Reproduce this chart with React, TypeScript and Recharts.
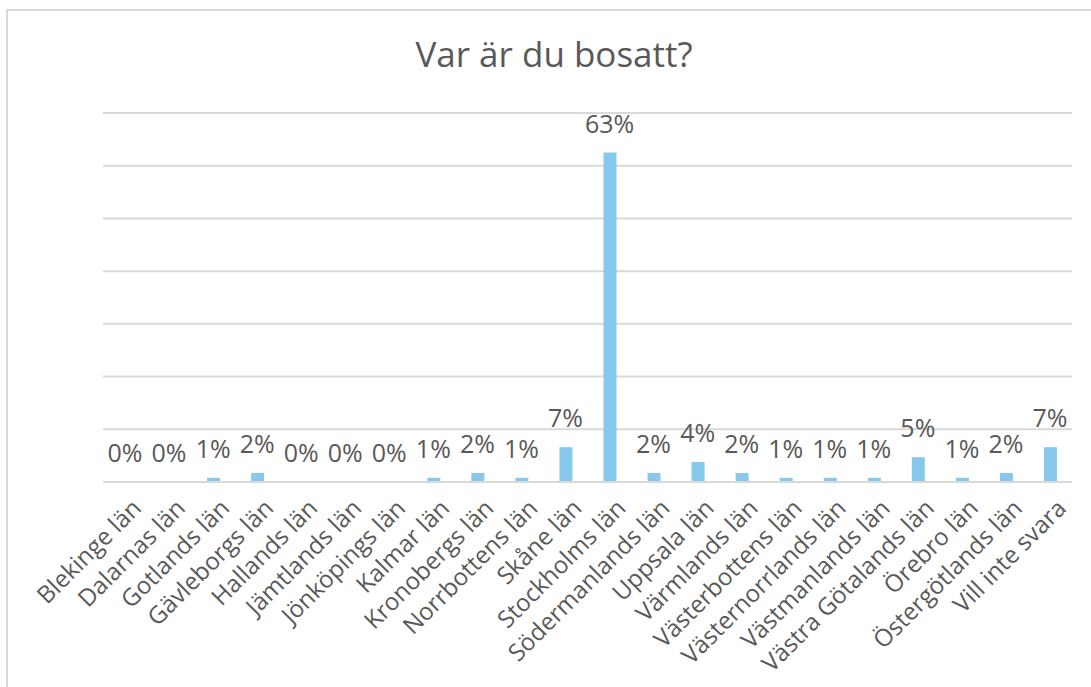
import { Bar, CartesianGrid, ComposedChart, LabelList, Line, XAxis, YAxis } from 'recharts'

const regions = [
  'Blekinge län',
  'Dalarnas län',
  'Gotlands län',
  'Gävleborgs län',
  'Hallands län',
  'Jämtlands län',
  'Jönköpings län',
  'Kalmar län',
  'Kronobergs län',
  'Norrbottens län',
  'Skåne län',
  'Stockholms län',
  'Södermanlands län',
  'Uppsala län',
  'Värmlands län',
  'Västerbottens län',
  'Västernorrlands län',
  'Västmanlands län',
  'Västra Götalands län',
  'Örebro län',
  'Östergötlands län',
  'Vill inte svara',
]

// share of respondents (fractions)
const shares = [
  0, 0, 0.008, 0.017, 0, 0, 0, 0.008, 0.017, 0.008, 0.066, 0.625, 0.017, 0.038, 0.017,
  0.008, 0.008, 0.008, 0.047, 0.008, 0.017, 0.066,
]

const yTicks = [0, 0.1, 0.2, 0.3, 0.4, 0.5, 0.6, 0.7]

const data = regions.map((name, i) => ({ name, share: shares[i] }))

const FONT = '"Open Sans", Lato, sans-serif'
const TEXT = '#595959'

function SlantTick({ x, y, payload }: any) {
  const tx = x + 3
  const ty = y + 5
  return (
    <text
      x={tx}
      y={ty}
      transform={`rotate(-45, ${tx}, ${ty})`}
      textAnchor="end"
      dominantBaseline="hanging"
      fontSize={24}
      fontFamily={FONT}
      fill={TEXT}
    >
      {payload.value}
    </text>
  )
}

export default function App() {
  return (
    <div style={{ position: 'fixed', left: 0, top: 0, width: 1091, height: 687, background: '#fff' }}>
      <div
        style={{
          position: 'absolute',
          left: 6,
          top: 9,
          width: 1100,
          height: 700,
          border: '2px solid #d9d9d9',
          boxSizing: 'border-box',
        }}
      />
      <div
        style={{
          position: 'absolute',
          left: 0,
          top: 30,
          width: 1108,
          textAlign: 'center',
          fontFamily: FONT,
          fontSize: 35,
          color: TEXT,
        }}
      >
        Var är du bosatt?
      </div>
      <div style={{ position: 'absolute', left: 0, top: 0 }}>
        <ComposedChart
          width={1091}
          height={687}
          data={data}
          margin={{ top: 113, right: 19, left: 103, bottom: 55 }}
          barSize={13}
        >
          <CartesianGrid vertical={false} stroke="#d9d9d9" strokeWidth={2} />
          <YAxis hide domain={[0, 0.7]} ticks={yTicks} />
          <XAxis
            dataKey="name"
            interval={0}
            height={150}
            tick={<SlantTick />}
            tickLine={false}
            axisLine={{ stroke: '#d9d9d9', strokeWidth: 2 }}
          />
          <Bar dataKey="share" fill="#86c9ec" isAnimationActive={false} />
          {/* invisible line carries the labels so 0% values get one too */}
          <Line dataKey="share" stroke="none" dot={false} activeDot={false} isAnimationActive={false}>
            <LabelList
              dataKey="share"
              position="top"
              offset={20}
              fontSize={25}
              fontFamily={FONT}
              fill={TEXT}
              formatter={(v: any) => `${Math.round(Number(v) * 100)}%`}
            />
          </Line>
        </ComposedChart>
      </div>
    </div>
  )
}
